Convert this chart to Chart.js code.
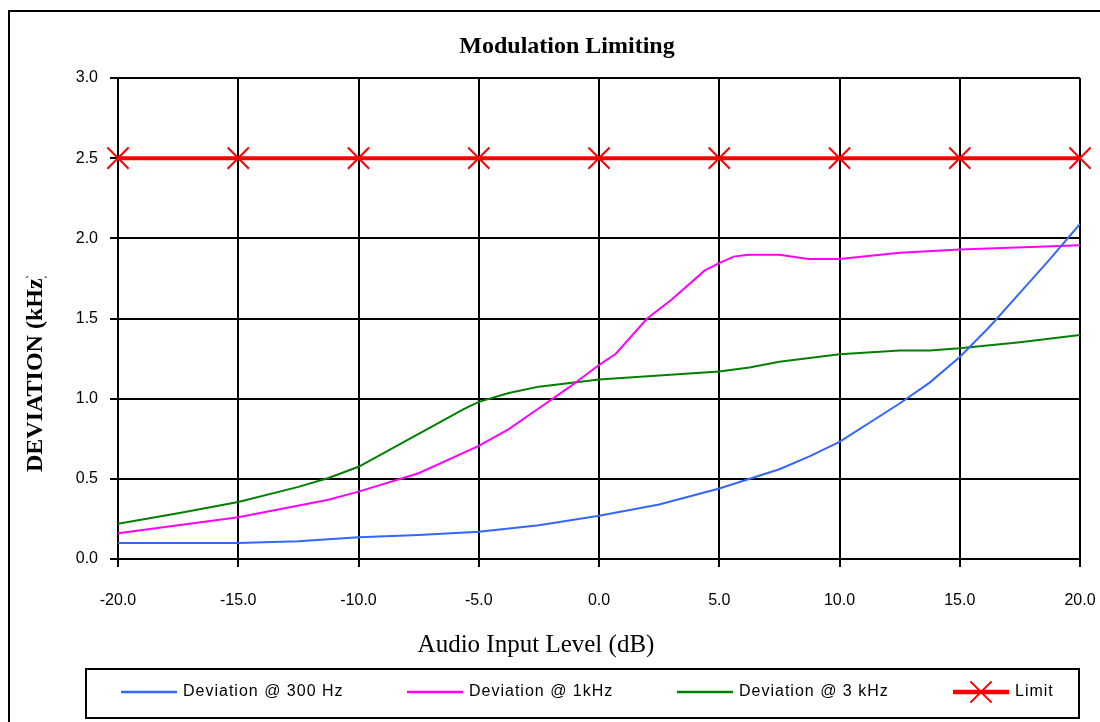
<!DOCTYPE html>
<html>
<head>
<meta charset="utf-8">
<title>Modulation Limiting</title>
<script src="https://cdn.jsdelivr.net/npm/chart.js@4.4.1/dist/chart.umd.min.js"></script>
<style>
  html, body { margin: 0; padding: 0; background: #fff; }
  #wrap { width: 1100px; height: 722px; }
</style>
</head>
<body>
<div id="wrap"><canvas id="myChart" width="1100" height="722"></canvas></div>
<script>

// Deviation (kHz) against audio input level (dB), one pair of arrays per tone

const level300 = [-20, -15, -12.5, -10, -7.5, -5, -2.5, 0, 2.5, 5, 7.5, 8.75, 10, 12.5, 13.75, 15, 16.25, 17.5, 18.75, 20];
const dev300   = [0.10, 0.10, 0.11, 0.135, 0.15, 0.17, 0.21, 0.27, 0.34, 0.44, 0.56, 0.64, 0.73, 0.97, 1.10, 1.26, 1.45, 1.66, 1.87, 2.09];

const level1k = [-20, -15, -11.25, -10, -7.5, -5, -3.75, -2.5, -1.25, 0, 0.7, 2.0, 3.0, 4.4, 5, 5.6, 6.2, 7.5, 8.7, 10, 12.5, 15, 20];
const dev1k   = [0.16, 0.26, 0.37, 0.42, 0.535, 0.705, 0.81, 0.94, 1.07, 1.21, 1.28, 1.50, 1.615, 1.80, 1.845, 1.886, 1.898, 1.898, 1.871, 1.871, 1.91, 1.93, 1.957];

const level3k = [-20, -17.5, -15, -12.5, -11.25, -10, -7.5, -5.625, -5, -3.75, -2.5, 0, 5, 6.25, 7.5, 10, 12.5, 13.75, 15, 17.5, 20];
const dev3k   = [0.22, 0.285, 0.355, 0.45, 0.505, 0.575, 0.78, 0.935, 0.98, 1.035, 1.075, 1.12, 1.17, 1.195, 1.23, 1.277, 1.30, 1.30, 1.314, 1.352, 1.397];

const limitLevel = [-20, -15, -10, -5, 0, 5, 10, 15, 20];
const limitDev   = [2.5, 2.5, 2.5, 2.5, 2.5, 2.5, 2.5, 2.5, 2.5];

const seriesLabels = ['Deviation @ 300 Hz', 'Deviation @ 1kHz', 'Deviation @ 3 kHz', 'Limit'];
const seriesColors = ['#3366ff', '#ff00ff', '#008000', '#ff0000'];

function toPoints(xs, ys) {
    return xs.map((x, i) => ({x: x, y: ys[i]}));
}

// frame, axis titles and the boxed legend along the bottom

const decor = {
    id: 'decor',
    afterDraw(chart) {
        const ctx = chart.ctx;
        ctx.save();

        // outer frame (runs off the right and bottom edges)
        ctx.strokeStyle = '#000';
        ctx.lineWidth = 2;
        ctx.beginPath();
        ctx.moveTo(9, 722);
        ctx.lineTo(9, 11);
        ctx.lineTo(1100, 11);
        ctx.stroke();

        // x axis title
        ctx.fillStyle = '#000';
        ctx.font = '25px "Liberation Serif"';
        ctx.textAlign = 'center';
        ctx.textBaseline = 'middle';
        ctx.fillText('Audio Input Level (dB)', 536, 645);

        // y axis title, top end cut off
        ctx.save();
        ctx.font = 'bold 24px "Liberation Serif"';
        const cut = ctx.measureText('DEVIATION (kHz').width;
        ctx.beginPath();
        ctx.rect(0, 472 - cut - 2, 80, cut + 10);
        ctx.clip();
        ctx.translate(42, 472);
        ctx.rotate(-Math.PI / 2);
        ctx.textAlign = 'left';
        ctx.textBaseline = 'alphabetic';
        ctx.fillText('DEVIATION (kHz)', 0, 0);
        ctx.restore();

        // legend box
        ctx.lineWidth = 2;
        ctx.strokeStyle = '#000';
        ctx.strokeRect(86, 669, 993, 49);

        const starts = [121, 407, 677, 953];
        const y = 692;
        ctx.font = '16px "Liberation Sans"';
        ctx.textAlign = 'left';
        ctx.textBaseline = 'middle';
        ctx.letterSpacing = '1px';
        chart.data.datasets.forEach((ds, i) => {
            const x0 = starts[i];
            ctx.strokeStyle = ds.borderColor;
            ctx.lineWidth = ds.borderWidth + 0.5;
            ctx.beginPath();
            ctx.moveTo(x0, y);
            ctx.lineTo(x0 + 56, y);
            ctx.stroke();
            if (ds.pointStyle === 'crossRot') {
                const r = ds.pointRadius * Math.SQRT1_2;
                const cx = x0 + 28;
                ctx.lineWidth = ds.pointBorderWidth;
                ctx.beginPath();
                ctx.moveTo(cx - r, y - r);
                ctx.lineTo(cx + r, y + r);
                ctx.moveTo(cx + r, y - r);
                ctx.lineTo(cx - r, y + r);
                ctx.stroke();
            }
            ctx.fillStyle = '#000';
            ctx.fillText(ds.label, x0 + 62, y);
        });
        ctx.restore();
    }
};

const tickFont = {family: '"Liberation Sans"', size: 16};

const config = {
    type: 'line',
    data: {
        datasets: [{
            label: seriesLabels[0],
            data: toPoints(level300, dev300),
            borderColor: seriesColors[0],
            borderWidth: 2,
            pointRadius: 0,
        }, {
            label: seriesLabels[1],
            data: toPoints(level1k, dev1k),
            borderColor: seriesColors[1],
            borderWidth: 2,
            pointRadius: 0,
        }, {
            label: seriesLabels[2],
            data: toPoints(level3k, dev3k),
            borderColor: seriesColors[2],
            borderWidth: 2,
            pointRadius: 0,
        }, {
            label: seriesLabels[3],
            data: toPoints(limitLevel, limitDev),
            borderColor: seriesColors[3],
            backgroundColor: seriesColors[3],
            borderWidth: 4,
            pointStyle: 'crossRot',
            pointRadius: 15,
            pointBorderWidth: 2,
            pointBorderColor: seriesColors[3],
            clip: false,
        }]
    },
    options: {
        responsive: false,
        animation: false,
        devicePixelRatio: 1,
        tension: 0,
        layout: {
            padding: {left: 54, right: 20, top: 0, bottom: 0}
        },
        plugins: {
            legend: {display: false},
            tooltip: {enabled: false},
            title: {
                display: true,
                text: 'Modulation Limiting',
                color: '#000',
                font: {family: '"Liberation Serif"', size: 24, weight: 'bold'},
                padding: {top: 32.6, bottom: 16.6}
            }
        },
        scales: {
            x: {
                type: 'linear',
                min: -20,
                max: 20,
                ticks: {
                    stepSize: 5,
                    color: '#000',
                    font: tickFont,
                    padding: 24,
                    maxRotation: 0,
                    callback: v => v.toFixed(1)
                },
                grid: {color: '#000', lineWidth: 2, tickLength: 8},
                border: {color: '#000', width: 2},
                afterFit: s => {
                    s.height = 163;
                    s.paddingLeft = 0;
                    s.paddingRight = 0;
                }
            },
            y: {
                min: 0,
                max: 3,
                ticks: {
                    stepSize: 0.5,
                    color: '#000',
                    font: tickFont,
                    padding: 12,
                    callback: v => v.toFixed(1)
                },
                grid: {color: '#000', lineWidth: 2, tickLength: 8},
                border: {color: '#000', width: 2},
                afterFit: s => { s.width = 64; }
            }
        }
    },
    plugins: [decor]
};

const ctx = document.querySelector('#myChart');
const myChart = new Chart(ctx, config);
</script>
</body>
</html>
